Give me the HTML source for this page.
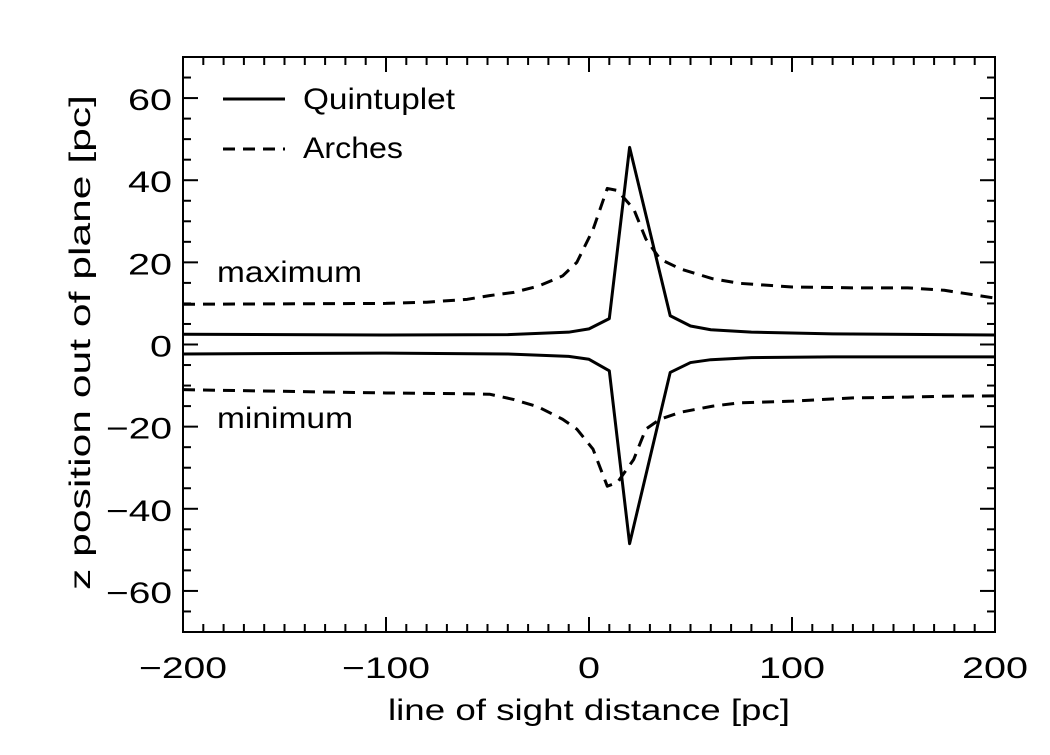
<!DOCTYPE html>
<html><head><meta charset="utf-8"><style>
body{margin:0;background:#fff}
svg text{font-family:"Liberation Sans","DejaVu Sans",sans-serif;fill:#000}
</style></head><body>
<svg id="chart" width="1050" height="750" viewBox="0 0 1050 750">
<rect width="1050" height="750" fill="#fff"/>
<g id="marks"></g>
<rect x="183" y="57" width="812" height="575" fill="none" stroke="#000" stroke-width="2"/>
<g id="ticks" stroke="#000" stroke-width="2"></g>
<g id="labels" font-size="30"></g>
<text x="388" y="720" font-size="30" textLength="402" lengthAdjust="spacingAndGlyphs">line of sight distance [pc]</text>
<text transform="translate(90,590) rotate(-90)" font-size="30" textLength="495" lengthAdjust="spacingAndGlyphs">z position out of plane [pc]</text>
<text x="217" y="282" font-size="30" textLength="145" lengthAdjust="spacingAndGlyphs">maximum</text>
<text x="217" y="428" font-size="30" textLength="136" lengthAdjust="spacingAndGlyphs">minimum</text>
<g>
<line x1="223" y1="99" x2="285" y2="99" stroke="#000" stroke-width="3"/>
<text x="303" y="109" font-size="30" textLength="152" lengthAdjust="spacingAndGlyphs">Quintuplet</text>
<line x1="223" y1="149" x2="285" y2="149" stroke="#000" stroke-width="3" stroke-dasharray="12,8"/>
<text x="303" y="158" font-size="30" textLength="100" lengthAdjust="spacingAndGlyphs">Arches</text>
</g>
</svg>
<script>
const quintX = [-200,-100,-40,-10,0,10,20,40,50,60,80,120,200];
const quintMax = [2.5,2.3,2.4,3.0,3.8,6.3,48,7,4.5,3.6,3.0,2.6,2.3];
const quintMin = [-2.3,-2.1,-2.3,-2.9,-3.6,-6.4,-48.5,-6.8,-4.4,-3.7,-3.2,-3.0,-3.0];
const archX = [-200,-100,-80,-60,-49,-37,-25,-13,-6,2,9,14,22,28,35,45,61,74,100,130,157,175,200];
const archMax = [9.8,10,10.3,11,11.9,12.7,14.2,16.7,20,28,38,37.5,33,25.7,20.8,18.4,16,14.9,14,13.8,13.8,13.2,11.3];
const archMin = [-11,-11.8,-11.9,-12,-12.1,-13.4,-15.2,-18.2,-20.6,-25.5,-34.5,-33.6,-28,-20.6,-18.2,-16.5,-15,-14.2,-13.8,-13,-12.8,-12.6,-12.5];
const xTicks = [-200,-100,0,100,200];
const yTicks = [-60,-40,-20,0,20,40,60];
const X0=183,X1=995,Y0=632,Y1=57;
const sx=v=>X0+(v+200)/400*(X1-X0);
const sy=v=>Y0-(v+70)/140*(Y0-Y1);
const NS="http://www.w3.org/2000/svg";
const marks=document.getElementById('marks');
function line(xs,ys,dash,name){
  const p=document.createElementNS(NS,'polyline');
  p.setAttribute('points',xs.map((x,i)=>sx(x)+','+sy(ys[i])).join(' '));
  p.setAttribute('fill','none');p.setAttribute('stroke','#000');p.setAttribute('stroke-width','3');
  p.setAttribute('stroke-linejoin','round');
  if(dash)p.setAttribute('stroke-dasharray','12,8');
  
  
  marks.appendChild(p);
}
line(quintX,quintMax,false,'quintuplet-maximum-line');
line(quintX,quintMin,false,'quintuplet-minimum-line');
line(archX,archMax,true,'arches-maximum-line');
line(archX,archMin,true,'arches-minimum-line');
const tk=document.getElementById('ticks'),lb=document.getElementById('labels');
function seg(x1,y1,x2,y2){const l=document.createElementNS(NS,'line');l.setAttribute('x1',x1);l.setAttribute('y1',y1);l.setAttribute('x2',x2);l.setAttribute('y2',y2);tk.appendChild(l);}
for(let v=-190;v<200;v+=10){const maj=v%100===0,L=maj?15:8;seg(sx(v),Y0,sx(v),Y0-L);seg(sx(v),Y1,sx(v),Y1+L);}
for(let v=-65;v<=65;v+=5){const maj=v%20===0,L=maj?15:8;seg(X0,sy(v),X0+L,sy(v));seg(X1,sy(v),X1-L,sy(v));}
function tlen(s){return s.length*22;}
xTicks.forEach(v=>{const t=document.createElementNS(NS,'text');const s=(v<0?'\u2212'+(-v):String(v));t.setAttribute('x',sx(v)-tlen(s)/2);t.setAttribute('y',678);t.setAttribute('textLength',tlen(s));t.setAttribute('lengthAdjust','spacingAndGlyphs');t.textContent=s;


lb.appendChild(t);});
yTicks.forEach(v=>{const t=document.createElementNS(NS,'text');const s=(v<0?'\u2212'+(-v):String(v));t.setAttribute('x',172-tlen(s));t.setAttribute('y',sy(v)+12);t.setAttribute('textLength',tlen(s));t.setAttribute('lengthAdjust','spacingAndGlyphs');t.textContent=s;


lb.appendChild(t);});
</script>
</body></html>
